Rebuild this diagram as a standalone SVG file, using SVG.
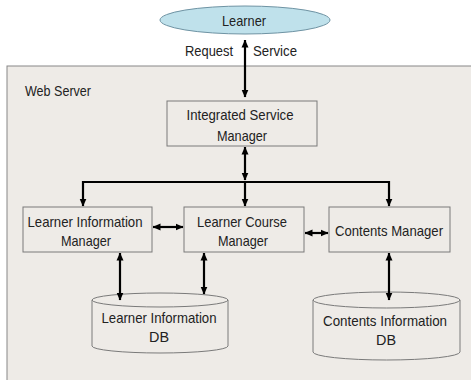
<svg xmlns="http://www.w3.org/2000/svg" width="471" height="380" viewBox="0 0 471 380">
<defs>
<marker id="ah" viewBox="0 0 8 8" refX="7.5" refY="4" markerWidth="8" markerHeight="8" markerUnits="userSpaceOnUse" orient="auto-start-reverse">
<path d="M0,0.5 L8,4 L0,7.5 Z" fill="#000"/>
</marker>
</defs>
<style>
text{font-family:"Liberation Sans",Arial,sans-serif;font-size:15px;fill:#222;text-anchor:middle}
.box{fill:#eeebe7;stroke:#7a7a7a;stroke-width:1}
.c{fill:none;stroke:#000;stroke-width:2.2}
.a{marker-end:url(#ah)}
.b{marker-start:url(#ah);marker-end:url(#ah)}
</style>
<rect width="471" height="380" fill="#ffffff"/>
<g id="webserver">
<rect x="7" y="66" width="470" height="320" fill="#eeebe7" stroke="#888" stroke-width="1"/>
<text x="25" y="96" style="text-anchor:start" textLength="66" lengthAdjust="spacingAndGlyphs">Web Server</text>
</g>
<g id="learner">
<ellipse cx="245" cy="20" rx="85" ry="14" fill="#bfe1eb" stroke="#6f93a3" stroke-width="1"/>
<text x="244" y="26" textLength="44" lengthAdjust="spacingAndGlyphs">Learner</text>
</g>
<g id="labels">
<text x="209" y="56" textLength="48" lengthAdjust="spacingAndGlyphs">Request</text>
<text x="275" y="56" textLength="44" lengthAdjust="spacingAndGlyphs">Service</text>
</g>
<g id="ism">
<rect class="box" x="167" y="101" width="150" height="45"/>
<text x="240" y="120" textLength="107" lengthAdjust="spacingAndGlyphs">Integrated Service</text>
<text x="242" y="141" textLength="50" lengthAdjust="spacingAndGlyphs">Manager</text>
</g>
<g id="lim">
<rect class="box" x="23" y="207" width="129" height="45"/>
<text x="85" y="227" textLength="115" lengthAdjust="spacingAndGlyphs">Learner Information</text>
<text x="86" y="246" textLength="50" lengthAdjust="spacingAndGlyphs">Manager</text>
</g>
<g id="lcm">
<rect class="box" x="184" y="207" width="120" height="45"/>
<text x="242" y="227" textLength="90" lengthAdjust="spacingAndGlyphs">Learner Course</text>
<text x="243" y="246" textLength="50" lengthAdjust="spacingAndGlyphs">Manager</text>
</g>
<g id="cm">
<rect class="box" x="329" y="207" width="121" height="45"/>
<text x="389" y="236" textLength="108" lengthAdjust="spacingAndGlyphs">Contents Manager</text>
</g>
<g id="lidb">
<path class="box" d="M92,300 L92,346 A68,7 0 0 0 228,346 L228,300"/>
<ellipse class="box" cx="160" cy="300" rx="68" ry="7"/>
<text x="159" y="323" textLength="115" lengthAdjust="spacingAndGlyphs">Learner Information</text>
<text x="159" y="342" textLength="20" lengthAdjust="spacingAndGlyphs">DB</text>
</g>
<g id="cidb">
<path class="box" d="M313,300 L313,352 A73.5,8 0 0 0 460,352 L460,300"/>
<ellipse class="box" cx="386.5" cy="300" rx="73.5" ry="8"/>
<text x="385" y="326" textLength="124" lengthAdjust="spacingAndGlyphs">Contents Information</text>
<text x="386" y="345" textLength="20" lengthAdjust="spacingAndGlyphs">DB</text>
</g>
<g id="connectors">
<line class="c b" x1="245" y1="40" x2="245" y2="97"/>
<line class="c b" x1="245" y1="147" x2="245" y2="180"/>
<path class="c" d="M83,182 L389,182" stroke-width="2.5"/>
<line class="c a" x1="83" y1="181" x2="83" y2="206"/>
<line class="c a" x1="245" y1="181" x2="245" y2="206"/>
<line class="c a" x1="389" y1="181" x2="389" y2="206"/>
<line class="c b" x1="153" y1="227" x2="183" y2="227"/>
<line class="c b" x1="305" y1="233" x2="328" y2="233"/>
<line class="c b" x1="120" y1="253" x2="120" y2="300"/>
<line class="c b" x1="204" y1="253" x2="204" y2="294"/>
<line class="c b" x1="389" y1="253" x2="389" y2="300"/>
</g>
</svg>
